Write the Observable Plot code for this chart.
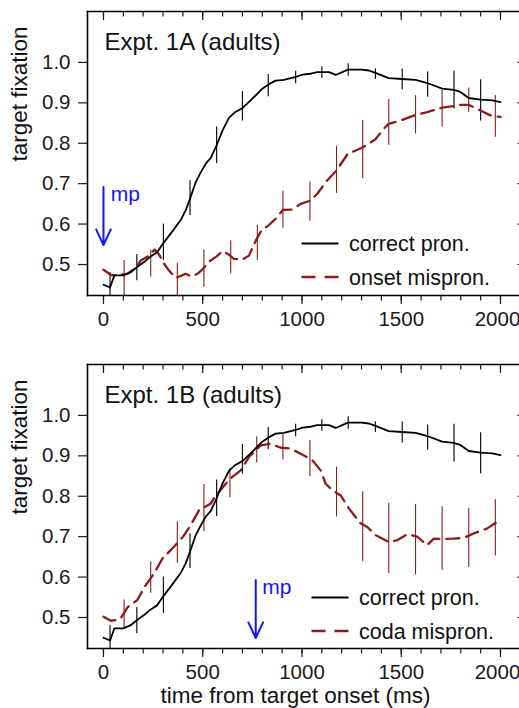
<!DOCTYPE html>
<html><head><meta charset="utf-8">
<script src="https://cdn.jsdelivr.net/npm/d3@7"></script>
<script src="https://cdn.jsdelivr.net/npm/@observablehq/plot@0.6"></script>
<style>
html,body{margin:0;padding:0;background:#fff;overflow:hidden;width:519px;height:708px}
#wrap{position:relative;width:519px;height:708px;overflow:hidden;font-family:"Liberation Sans",Arial,sans-serif}
#wrap > svg{display:block}
#leg{position:absolute;left:0;top:0}
</style></head><body><div id="wrap"></div>
<script>
// ---- data (time in ms, proportion of target fixation) ----
const correctTime = [0,33,55,100,137,168,204,238,270,302,347,389,414,436,465,490,516,540,570,600,632,660,700,741,770,800,830,867,909,968,1002,1044,1077,1136,1170,1231,1300,1337,1370,1437,1505,1572,1614,1648,1706,1764,1798,1840,1899,1958,2000];
const correctFix  = [0.450,0.443,0.473,0.473,0.481,0.493,0.506,0.520,0.530,0.553,0.582,0.610,0.634,0.663,0.704,0.728,0.750,0.763,0.795,0.832,0.863,0.876,0.887,0.906,0.920,0.935,0.945,0.955,0.957,0.964,0.970,0.972,0.976,0.976,0.969,0.982,0.982,0.980,0.974,0.961,0.959,0.957,0.951,0.946,0.935,0.932,0.927,0.912,0.908,0.906,0.902];
const correctErrTime = [33,168,302,436,570,700,830,968,1100,1233,1370,1505,1633,1766,1900];
const correctErrLo   = [0.400,0.460,0.510,0.621,0.750,0.855,0.915,0.947,0.961,0.966,0.958,0.932,0.914,0.885,0.855];
const correctErrHi   = [0.480,0.525,0.600,0.707,0.840,0.928,0.970,0.978,0.989,0.997,0.984,0.984,0.976,0.978,0.957];

const onsetTime = [0,37,70,121,163,188,230,258,280,305,330,364,390,414,445,473,503,532,570,599,630,657,700,733,767,800,825,867,904,950,993,1043,1077,1127,1174,1231,1271,1306,1340,1370,1412,1437,1496,1572,1631,1706,1764,1800,1840,1870,1899,1949,2000];
const onsetFix  = [0.487,0.474,0.473,0.477,0.492,0.510,0.522,0.537,0.525,0.502,0.485,0.467,0.472,0.477,0.470,0.477,0.490,0.507,0.520,0.533,0.525,0.514,0.512,0.522,0.559,0.588,0.594,0.613,0.635,0.636,0.650,0.658,0.675,0.708,0.733,0.774,0.782,0.790,0.800,0.810,0.836,0.848,0.856,0.870,0.877,0.888,0.892,0.895,0.895,0.888,0.881,0.869,0.865];
const onsetErrTime = [104,238,372,506,641,775,904,1040,1174,1306,1437,1572,1706,1840,1974];
const onsetErrLo   = [0.400,0.469,0.400,0.444,0.477,0.510,0.590,0.607,0.676,0.712,0.795,0.823,0.840,0.877,0.815];
const onsetErrHi   = [0.510,0.536,0.503,0.536,0.559,0.597,0.681,0.704,0.793,0.856,0.908,0.918,0.932,0.937,0.918];

const codaTime = [0,37,70,87,121,170,213,255,297,355,401,434,481,540,565,582,616,649,691,733,758,792,842,893,943,1010,1052,1094,1119,1153,1195,1236,1295,1329,1370,1437,1479,1530,1580,1631,1664,1706,1764,1815,1865,1932,2000];
const codaFix  = [0.502,0.492,0.494,0.498,0.525,0.543,0.580,0.609,0.646,0.675,0.700,0.724,0.765,0.782,0.802,0.811,0.831,0.848,0.864,0.897,0.909,0.926,0.930,0.920,0.918,0.901,0.889,0.864,0.831,0.815,0.802,0.770,0.733,0.724,0.704,0.687,0.691,0.706,0.700,0.679,0.695,0.694,0.695,0.697,0.708,0.720,0.742];
const codaErrTime = [104,238,372,506,637,772,904,1040,1174,1306,1437,1572,1706,1840,1974];
const codaErrLo   = [0.473,0.560,0.634,0.712,0.796,0.883,0.890,0.848,0.749,0.638,0.609,0.605,0.617,0.624,0.652];
const codaErrHi   = [0.543,0.638,0.737,0.829,0.868,0.947,0.953,0.938,0.872,0.811,0.782,0.780,0.774,0.770,0.792];

// mispronunciation point markers: arrow x, arrow top, arrow tip, label x, label y
const mpA = {x: 0,   y1: 0.692, y2: 0.548, tx: 37,  ty: 0.675};
const mpB = {x: 767, y1: 0.593, y2: 0.449, tx: 800, ty: 0.576};

const xTicks = [0,500,1000,1500,2000];
const xMinorTicks = d3.range(0, 2001, 100);
const yTicks = [0.5,0.6,0.7,0.8,0.9,1.0];
const titles = ["Expt. 1A (adults)", "Expt. 1B (adults)"];
const legendLabels = [["correct pron.", "onset mispron."], ["correct pron.", "coda mispron."]];
const yLabel = "target fixation";
const xLabel = "time from target onset (ms)";

// ---- tables ----
const zip = (t, v) => t.map((d, i) => ({t: d, v: v[i]}));
const zipErr = (t, lo, hi) => t.map((d, i) => ({t: d, lo: lo[i], hi: hi[i]}));
const correct = zip(correctTime, correctFix);
const correctErr = zipErr(correctErrTime, correctErrLo, correctErrHi);
const onset = zip(onsetTime, onsetFix);
const onsetErr = zipErr(onsetErrTime, onsetErrLo, onsetErrHi);
const coda = zip(codaTime, codaFix);
const codaErr = zipErr(codaErrTime, codaErrLo, codaErrHi);

const FONT = '"Liberation Sans", Arial, sans-serif';
const RED = "#8b1c1c", BLUE = "#1414ff";

function panel({title, mis, misErr, mp, height, marginTop, marginBottom, withXLabel}) {
  const last = xTicks[xTicks.length - 1];
  return Plot.plot({
    width: 519, height, marginLeft: 87, marginRight: 0, marginTop, marginBottom,
    style: {fontFamily: FONT, fontSize: "21px", color: "#1a1a1a", background: "white", overflow: "hidden"},
    x: {domain: [-80.5, 2126], range: [87, 525]},
    y: {domain: [0.4233, 1.126]},
    marks: [
      Plot.ruleX(correctErr, {x: "t", y1: "lo", y2: "hi", stroke: "#111", strokeWidth: 1.2, clip: true}),
      Plot.ruleX(misErr, {x: "t", y1: "lo", y2: "hi", stroke: RED, strokeWidth: 1.1, clip: true}),
      Plot.line(mis, {x: "t", y: "v", stroke: RED, strokeWidth: 2.3, strokeDasharray: "13,7", clip: true}),
      Plot.line(correct, {x: "t", y: "v", stroke: "#000", strokeWidth: 1.8, clip: true}),
      Plot.arrow([mp], {x1: "x", x2: "x", y1: "y1", y2: "y2", stroke: BLUE, strokeWidth: 2, headLength: 13, headAngle: 50}),
      Plot.text([mp], {x: "tx", y: "ty", text: () => "mp", fill: BLUE, textAnchor: "start", fontSize: 21}),
      Plot.text([title], {text: d => d, frameAnchor: "top-left", dx: 17, dy: 31, textAnchor: "start", lineAnchor: "middle", fontSize: 24, fill: "#111"}),
      Plot.text([yLabel], {text: d => d, frameAnchor: "left", rotate: -90, dx: -68, dy: 8, fontSize: 22.5, fill: "#111"}),
      withXLabel ? Plot.text([xLabel], {text: d => d, frameAnchor: "bottom", dx: -8, dy: 47, lineAnchor: "middle", fontSize: 22.5, fill: "#111"}) : null,
      // bottom axis: major + minor ticks (outward), labels
      Plot.axisX({anchor: "bottom", ticks: xTicks, tickSize: 9, fill: "none", label: null, strokeWidth: 1.2}),
      Plot.axisX({anchor: "bottom", ticks: xMinorTicks, tickSize: 5.5, fill: "none", label: null, strokeWidth: 1.2}),
      Plot.axisX({anchor: "bottom", ticks: xTicks.slice(0, -1), tickSize: 0, tickPadding: 16, tickFormat: d3.format("d"), fontSize: 20.5, label: null}),
      Plot.axisX({anchor: "bottom", ticks: [last], tickSize: 0, tickPadding: 16, dx: -3, tickFormat: d3.format("d"), fontSize: 20.5, label: null}),
      // top axis: inward ticks
      Plot.axisX({anchor: "top", ticks: xTicks, tickSize: -8, fill: "none", label: null, strokeWidth: 1.2}),
      Plot.axisX({anchor: "top", ticks: xMinorTicks, tickSize: -4.5, fill: "none", label: null, strokeWidth: 1.2}),
      // left axis (outward) and right axis (inward, border itself is beyond the page edge)
      Plot.axisY({anchor: "left", ticks: yTicks, tickSize: 9, tickPadding: 8, tickFormat: d3.format(".1f"), fontSize: 20.5, label: null, strokeWidth: 1.2}),
      Plot.axisY({anchor: "right", ticks: yTicks, tickSize: -2.5, fill: "none", label: null, strokeWidth: 1.2}),
      Plot.frame({anchor: "left", stroke: "#000", strokeWidth: 1.6}),
      Plot.frame({anchor: "top", stroke: "#000", strokeWidth: 1.6}),
      Plot.frame({anchor: "bottom", stroke: "#000", strokeWidth: 1.6})
    ]
  });
}

const wrap = document.getElementById("wrap");
wrap.appendChild(panel({title: titles[0], mis: onset, misErr: onsetErr, mp: mpA, height: 340, marginTop: 11, marginBottom: 45, withXLabel: false}));
wrap.appendChild(panel({title: titles[1], mis: coda, misErr: codaErr, mp: mpB, height: 368, marginTop: 24, marginBottom: 60, withXLabel: true}));

// ---- legends (overlay) ----
const legendBoxes = [
  {x0: 301.5, x1: 338.5, tx: 349, y: [243.5, 277]},
  {x0: 311.5, x1: 348.5, tx: 359, y: [597.5, 631]}
];
const NS = "http://www.w3.org/2000/svg";
const leg = document.createElementNS(NS, "svg");
leg.setAttribute("id", "leg");
leg.setAttribute("width", 519);
leg.setAttribute("height", 708);
legendBoxes.forEach((b, p) => {
  legendLabels[p].forEach((lab, i) => {
    const ln = document.createElementNS(NS, "line");
    ln.setAttribute("x1", b.x0); ln.setAttribute("x2", b.x1);
    ln.setAttribute("y1", b.y[i]); ln.setAttribute("y2", b.y[i]);
    ln.setAttribute("stroke", i === 0 ? "#000" : RED);
    ln.setAttribute("stroke-width", i === 0 ? 1.8 : 2.3);
    if (i === 1) ln.setAttribute("stroke-dasharray", "14,9");
    leg.appendChild(ln);
    const tx = document.createElementNS(NS, "text");
    tx.setAttribute("x", b.tx); tx.setAttribute("y", b.y[i]);
    tx.setAttribute("dy", "0.35em");
    tx.setAttribute("font-size", "21.5px");
    tx.setAttribute("font-family", FONT);
    tx.setAttribute("fill", "#111");
    tx.textContent = lab;
    leg.appendChild(tx);
  });
});
wrap.appendChild(leg);
</script>
</body></html>
